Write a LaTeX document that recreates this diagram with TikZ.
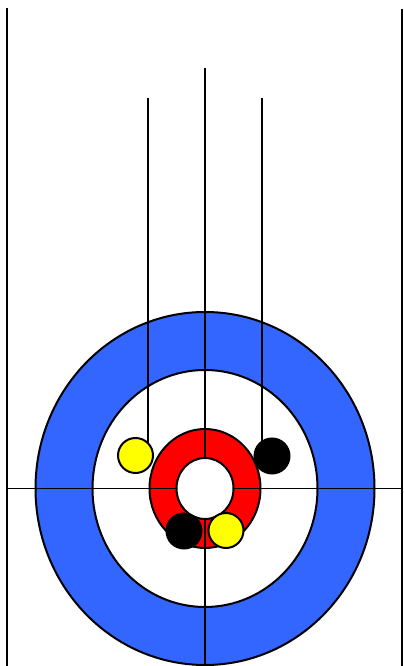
\documentclass[tikz,border=0pt]{standalone}
\definecolor{houseblue}{RGB}{51,102,255}
\definecolor{housered}{RGB}{255,0,0}
\definecolor{stoneyellow}{RGB}{255,255,0}
\tikzset{
  ring/.style={draw=black, line width=2bp},
  sheet/.style={draw=black, line width=2bp},
  thinline/.style={draw=black, line width=1.4bp},
  stone/.style={circle, draw=black, line width=2bp, minimum size=35bp, inner sep=0pt},
  yellowstone/.style={stone, fill=stoneyellow},
  blackstone/.style={stone, fill=black},
}
\begin{document}
\begin{tikzpicture}[x=1bp,y=1bp]
\useasboundingbox (0,0) rectangle (403,666);
% key points
\coordinate (tee) at (205,177.5);
\coordinate (sideLtop) at (6.5,658);
\coordinate (sideLbot) at (6.5,0);
\coordinate (sideRtop) at (401.5,657);
\coordinate (sideRbot) at (401.5,0);
\coordinate (teeL) at (6.5,177.5);
\coordinate (teeR) at (401.5,177.5);
\coordinate (centreTop) at (205,598);
\coordinate (centreBot) at (205,0);
\coordinate (pathAtop) at (148,568);
\coordinate (pathBtop) at (262,568);
% sidelines
\draw[sheet] (sideLtop) -- (sideLbot);
\draw[sheet] (sideRtop) -- (sideRbot);
% house
\filldraw[ring, fill=houseblue] (tee) ellipse [x radius=169.5, y radius=176.5];
\filldraw[ring, fill=white] (tee) ellipse [x radius=112.5, y radius=118.5];
\filldraw[ring, fill=housered] (tee) ellipse [x radius=55.5, y radius=59.5];
% stone positions
\coordinate (s1) at (135.5,210.5);
\coordinate (s2) at (272,210);
\coordinate (s3) at (184,135);
\coordinate (s4) at (226,135.5);
% lines
\draw[thinline] (teeL) -- (teeR);
\draw[thinline] (centreTop) -- (centreBot);
\draw[thinline] (pathAtop) -- (pathAtop |- s1);
\draw[thinline] (pathBtop) -- (pathBtop |- s2);
% button
\filldraw[ring, fill=white] (tee) ellipse [x radius=28.5, y radius=30.5];
% stones
\node[yellowstone] (stoneA) at (s1) {};
\node[blackstone] (stoneB) at (s2) {};
\node[blackstone] (stoneC) at (s3) {};
\node[yellowstone] (stoneD) at (s4) {};
\end{tikzpicture}
\end{document}
